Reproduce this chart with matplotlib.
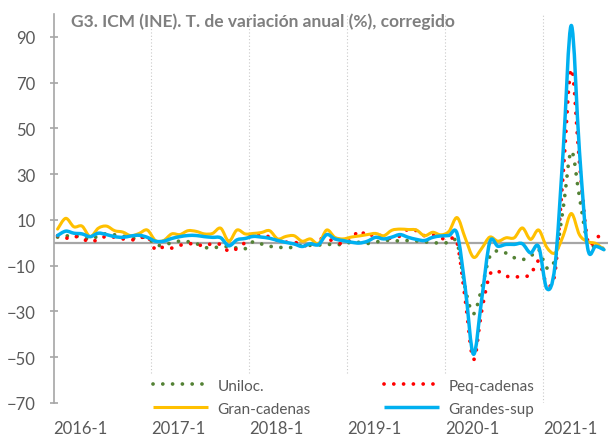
import numpy as np
import matplotlib
matplotlib.use("Agg")
import matplotlib.pyplot as plt
from matplotlib.path import Path
from matplotlib.patches import PathPatch
from matplotlib.lines import Line2D

plt.rcParams['font.family'] = ['Lato', 'DejaVu Sans']

title = "G3. ICM (INE). T. de variación anual (%), corregido"
year_labels = ['2016-1', '2017-1', '2018-1', '2019-1', '2020-1', '2021-1']
series_names = ['Uniloc.', 'Peq-cadenas', 'Gran-cadenas', 'Grandes-sup']

uniloc = [2.5, 3.0, 3.0, 2.5, 1.5, 3.0, 4.0, 3.5, 3.0, 2.0, 2.0, 2.5,
          -1.0, -0.8, 0.0, 0.8, 0.5, -0.3, -2.0, -2.0, -1.9, -1.6, -2.3, -2.6,
          0.5, -0.5, -1.5, -1.9, -2.1, -1.9, -1.1, -1.1, -1.0, -0.7, -0.7, -0.7,
          0.3, 0.2, -0.3, 0.3, 1.0, 1.0, 0.8, 1.0, 0.8, 0.5, 0.0, 0.0,
          0.0, 0.0, -20.0, -31.0, -20.0, -6.0, -3.5, -4.5, -6.5, -7.3, -6.0, -3.0,
          -11.0, -7.0, 15.0, 40.0, 20.0, 0.0, -1.3, -2.6]

peq_cadenas = [3.1, 2.0, 2.9, 1.7, 0.6, 1.4, 2.9, 2.4, 1.7, 1.3, 1.7, 3.0,
               -3.0, -1.8, -2.3, -1.1, -0.4, -0.6, -1.4, -0.3, -0.8, -3.7, -2.5, 0.2,
               4.0, 2.7, 2.7, 1.0, 0.3, 0.2, -0.5, -1.9, 1.5, 1.5, 0.7, -0.5,
               1.5, 5.3, 2.8, 4.1, 2.5, 2.0, 3.0, 6.0, 5.3, 3.1, 3.5, 2.0,
               1.5, 0.0, -25.0, -51.0, -30.0, -14.0, -12.5, -14.5, -15.0, -14.5, -14.0, -8.0,
               -18.0, -13.0, 30.0, 76.0, 35.0, 1.0, 2.0, 4.5]

gran_cadenas = [6.0, 10.7, 7.0, 7.3, 2.7, 6.4, 7.3, 5.3, 4.7, 3.1, 4.1, 5.6,
                1.0, 1.0, 3.9, 3.6, 5.3, 5.0, 3.9, 4.1, 6.4, 0.7, 5.6, 3.9,
                4.1, 4.5, 5.3, 1.7, 2.8, 3.1, 0.7, 1.7, -0.4, 5.6, 2.4, 1.7,
                2.5, 3.0, 3.6, 4.1, 3.1, 5.5, 6.0, 5.8, 5.6, 3.1, 4.6, 3.5,
                5.0, 11.0, 2.0, -6.3, -2.5, 2.5, 0.7, 2.2, 2.2, 6.5, 1.5, 5.6,
                -2.0, -4.4, 3.0, 12.8, 3.5, 0.5, -0.3, -3.0]

grandes_sup = [3.2, 5.1, 4.2, 3.9, 2.7, 4.2, 3.6, 2.7, 2.4, 3.0, 3.3, 2.4,
               0.7, 0.7, 1.9, 2.7, 3.2, 3.2, 2.7, 2.4, 2.2, -1.3, 1.3, 1.9,
               2.8, 2.5, 2.0, 1.0, 0.2, -0.5, -1.6, -0.4, -0.8, 3.6, 1.7, 1.0,
               0.3, -0.1, 0.7, 2.4, 1.7, 2.5, 3.6, 2.4, 1.5, 1.0, 2.4, 3.0,
               3.2, 4.0, -20.0, -48.7, -25.0, 0.3, -1.5, -0.7, -0.7, -0.4, -4.4, -1.7,
               -20.0, -10.0, 40.0, 95.0, 40.0, -2.2, -1.5, -3.0]

colors = ['#548235', '#FF0000', '#FFC000', '#00B0F0']


def smooth_path(y):
    """Bezier path through the data points (Excel-like smoothed line)."""
    y = np.asarray(y, float)
    x = np.arange(len(y), dtype=float)
    pts = np.column_stack([x, y])
    n = len(pts)
    verts = [pts[0]]
    codes = [Path.MOVETO]
    for i in range(n - 1):
        p0 = pts[i - 1] if i > 0 else pts[i]
        p1 = pts[i]
        p2 = pts[i + 1]
        p3 = pts[i + 2] if i + 2 < n else pts[i + 1]
        c1 = p1 + (p2 - p0) / 6.0
        c2 = p2 - (p3 - p1) / 6.0
        verts += [c1, c2, p2]
        codes += [Path.CURVE4] * 3
    return Path(np.array(verts), codes)


fig = plt.figure(figsize=(6.08, 4.39), dpi=100)
ax = fig.add_axes([53.5 / 608, 1 - 404 / 439, 1 - 53.5 / 608, (404 - 15) / 439])

n = len(uniloc)
ax.set_xlim(-0.5, n - 0.5)
ax.set_ylim(-70, 100)

# vertical dotted gridlines at year boundaries
for k in range(1, len(year_labels)):
    ax.axvline(12 * k - 0.5, color='#c9c9c9', lw=0.8, ls=(0, (1, 2)), zorder=0)

ax.axhline(0, color='#a6a6a6', lw=1.6, zorder=1)

dot = (0, (0.01, 2.6))
styles = [
    dict(lw=2.7, ls=dot, cap='round'),
    dict(lw=2.7, ls=dot, cap='round'),
    dict(lw=2.2, ls='-', cap='round'),
    dict(lw=2.5, ls='-', cap='round'),
]
data = [uniloc, peq_cadenas, gran_cadenas, grandes_sup]
handles = []
for k, (vals, col, st) in enumerate(zip(data, colors, styles)):
    patch = PathPatch(smooth_path(vals), fill=False, edgecolor=col, lw=st['lw'],
                      linestyle=st['ls'], capstyle=st['cap'], joinstyle='round',
                      zorder=2 + k)
    ax.add_patch(patch)
    handles.append(Line2D([], [], color=col, lw=st['lw'], linestyle=st['ls'],
                          dash_capstyle='round', solid_capstyle='butt'))

for s in ['top', 'right', 'bottom']:
    ax.spines[s].set_visible(False)
ax.spines['left'].set_color('#a6a6a6')
ax.spines['left'].set_linewidth(1.2)

ax.set_yticks(np.arange(-70, 91, 20))
ax.tick_params(axis='y', direction='inout', length=6, width=1.2, color='#a6a6a6',
               labelsize=12, labelcolor='#595959', pad=10)
ax.set_xticks([12 * k - 0.5 for k in range(len(year_labels))])
ax.set_xticklabels(year_labels, ha='left')
ax.tick_params(axis='x', length=0, labelsize=12, labelcolor='#595959', pad=12.5)

fig.text(0.432, 1 - 22 / 439, title, ha='center', va='center', fontsize=12.5,
         fontweight='bold', color='#7f7f7f')

# legend order: Uniloc, Peq-cadenas / Gran-cadenas, Grandes-sup (row-wise)
leg = ax.legend([handles[0], handles[2], handles[1], handles[3]],
                [series_names[0], series_names[2], series_names[1], series_names[3]],
                ncol=2, loc='lower left', bbox_to_anchor=(141 / 608, 1 - 429 / 439),
                bbox_transform=fig.transFigure, frameon=True, fontsize=11,
                handlelength=3.6, handletextpad=0.6, columnspacing=4.8,
                labelspacing=0.6, borderpad=0.3)
leg.get_frame().set_facecolor('white')
leg.get_frame().set_edgecolor('none')
leg.get_frame().set_alpha(1)
leg.set_zorder(10)
for t in leg.get_texts():
    t.set_color('#595959')

fig.savefig('out.png', dpi=100)
